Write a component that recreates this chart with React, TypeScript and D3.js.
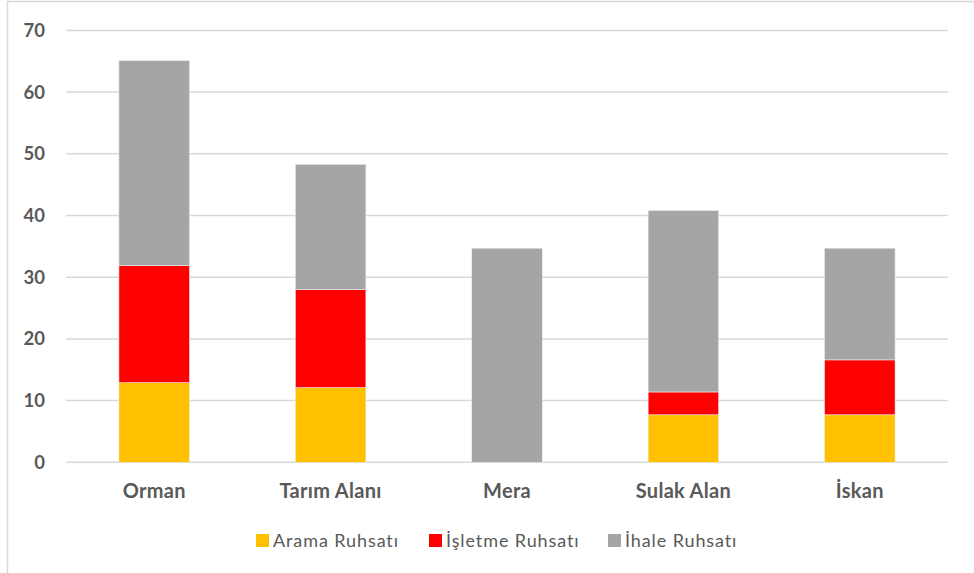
import React, { useEffect, useRef } from "react";
import * as d3 from "d3";

const categories = ["Orman", "Tarım Alanı", "Mera", "Sulak Alan", "İskan"];
const seriesNames = ["Arama Ruhsatı", "İşletme Ruhsatı", "İhale Ruhsatı"];
const seriesColors = ["#FFC000", "#FF0000", "#A5A5A5"];
const aramaValues = [12.9, 12.1, 0, 7.7, 7.7];
const isletmeValues = [19.0, 15.9, 0, 3.7, 8.9];
const ihaleValues = [33.2, 20.3, 34.7, 29.4, 18.1];
const yTicks = [0, 10, 20, 30, 40, 50, 60, 70];

const W = 974;
const H = 573;

export default function App() {
  const ref = useRef<SVGSVGElement>(null);

  useEffect(() => {
    const svg = d3.select(ref.current);
    svg.selectAll("*").remove();

    const left = 66, right = 948, top = 30.4, bottom = 462.3;
    const x = d3.scaleBand<string>().domain(categories).range([left, right]).paddingInner(0.6).paddingOuter(0.3);
    const y = d3.scaleLinear().domain([0, 70]).range([bottom, top]);

    // outer border
    svg.append("rect")
      .attr("x", 7.5).attr("y", 1.5).attr("width", 1000).attr("height", 700)
      .attr("fill", "#fff").attr("stroke", "#d9d9d9").attr("stroke-width", 1.5);

    // gridlines
    svg.append("g").selectAll("line").data(yTicks).join("line")
      .attr("x1", left).attr("x2", right)
      .attr("y1", (d) => y(d)).attr("y2", (d) => y(d))
      .attr("stroke", "#d9d9d9").attr("stroke-width", 1.5);

    // y labels
    svg.append("g").selectAll("text").data(yTicks).join("text")
      .attr("x", 45).attr("y", (d) => y(d))
      .attr("dy", "0.35em")
      .attr("text-anchor", "end")
      .attr("font-family", "Lato, 'Open Sans', sans-serif")
      .attr("font-weight", "bold")
      .attr("font-size", 18.5)
      .attr("fill", "#595959")
      .text((d) => String(d));

    // stacked bars
    const rows = categories.map((c, i) => ({
      cat: c,
      s0: aramaValues[i],
      s1: isletmeValues[i],
      s2: ihaleValues[i],
    }));
    const stack = d3.stack<any>().keys(["s0", "s1", "s2"]);
    const stacked = stack(rows);
    stacked.forEach((layer, li) => {
      svg.append("g").selectAll("rect").data(layer).join("rect")
        .attr("x", (d: any) => x(d.data.cat)!)
        .attr("width", x.bandwidth())
        .attr("y", (d: any) => y(d[1]))
        .attr("height", (d: any) => Math.max(0, y(d[0]) - y(d[1])))
        .attr("fill", seriesColors[li])
        .attr("stroke", (d: any) => (d[1] - d[0] > 0 ? "#ececec" : "none"))
        .attr("stroke-width", 0.6);
    });

    // category labels
    svg.append("g").selectAll("text").data(categories).join("text")
      .attr("x", (d) => x(d)! + x.bandwidth() / 2)
      .attr("y", 498)
      .attr("text-anchor", "middle")
      .attr("font-family", "Lato, 'Open Sans', sans-serif")
      .attr("font-weight", "bold")
      .attr("font-size", 20)
      .attr("letter-spacing", 0.3)
      .attr("fill", "#595959")
      .text((d) => d);

    // legend
    const legendX = [256, 429, 608];
    const lg = svg.append("g");
    seriesNames.forEach((name, i) => {
      lg.append("rect")
        .attr("x", legendX[i]).attr("y", 534).attr("width", 13).attr("height", 13)
        .attr("fill", seriesColors[i]);
      lg.append("text")
        .attr("x", legendX[i] + 17).attr("y", 547)
        .attr("font-family", "Lato, 'Open Sans', sans-serif")
        .attr("font-size", 18)
        .attr("letter-spacing", 0.9)
        .attr("fill", "#595959")
        .text(name);
    });
  }, []);

  return (
    <svg
      ref={ref}
      width={W}
      height={H}
      style={{ position: "absolute", left: 0, top: 0, background: "#fff" }}
    />
  );
}
